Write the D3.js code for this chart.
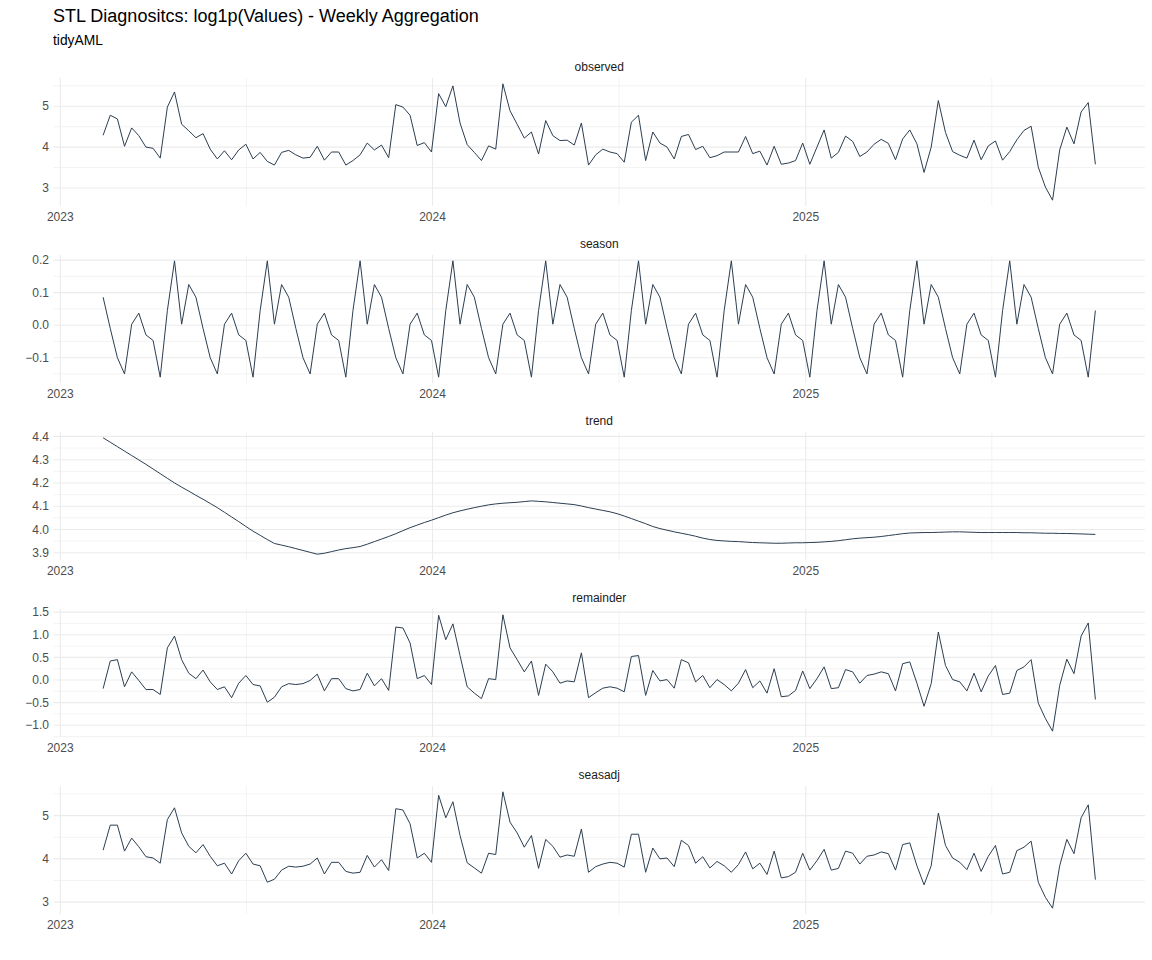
<!DOCTYPE html>
<html><head><meta charset="utf-8">
<script src="https://cdn.jsdelivr.net/npm/d3@7"></script>
<style>body{margin:0;background:#fff} text{font-family:"Liberation Sans",Arial,sans-serif}</style>
</head><body><svg id="c" width="1152" height="960"></svg>
<script>
// ---------------- DATA ----------------
const startDate = "2023-02-12";   // first weekly observation (Sunday)
const nWeeks = 140;
const facetNames = ["observed", "season", "trend", "remainder", "seasadj"];
const xYearLabels = ["2023", "2024", "2025"];

const observed = [
 4.29,4.78,4.69,4.02,4.47,4.28,4.00,3.97,3.73,4.98,5.35,4.56,4.40,4.23,4.33,3.95,3.71,3.91,3.69,3.93,
 4.07,3.71,3.87,3.65,3.56,3.87,3.92,3.81,3.73,3.75,4.02,3.68,3.88,3.88,3.56,3.67,3.81,4.10,3.93,4.05,
 3.74,5.04,4.98,4.78,4.04,4.11,3.88,5.31,4.99,5.50,4.59,4.06,3.87,3.67,4.03,3.95,5.55,4.89,4.56,4.22,
 4.37,3.83,4.65,4.28,4.16,4.17,4.05,4.59,3.56,3.81,3.95,3.88,3.84,3.63,4.61,4.78,3.67,4.37,4.10,4.00,
 3.71,4.26,4.31,3.94,4.02,3.74,3.79,3.88,3.88,3.88,4.26,3.84,3.90,3.56,4.02,3.58,3.61,3.67,4.10,3.58,
 4.00,4.42,3.73,3.87,4.27,4.14,3.77,3.88,4.07,4.19,4.09,3.69,4.20,4.42,4.08,3.38,4.00,5.14,4.36,3.89,
 3.80,3.73,4.17,3.69,4.03,4.15,3.68,3.89,4.18,4.41,4.51,3.51,3.02,2.70,3.93,4.49,4.08,4.86,5.09,3.58
];
const season = [
 0.086,-0.010,-0.100,-0.150,0.003,0.037,-0.030,-0.047,-0.160,0.045,0.198,0.003,0.125,
 0.086,-0.010,-0.100,-0.150,0.003,0.037,-0.030,-0.047,-0.160,0.045,0.198,0.003,0.125,
 0.086,-0.010,-0.100,-0.150,0.003,0.037,-0.030,-0.047,-0.160,0.045,0.198,0.003,0.125,
 0.086,-0.010,-0.100,-0.150,0.003,0.037,-0.030,-0.047,-0.160,0.045,0.198,0.003,0.125,
 0.086,-0.010,-0.100,-0.150,0.003,0.037,-0.030,-0.047,-0.160,0.045,0.198,0.003,0.125,
 0.086,-0.010,-0.100,-0.150,0.003,0.037,-0.030,-0.047,-0.160,0.045,0.198,0.003,0.125,
 0.086,-0.010,-0.100,-0.150,0.003,0.037,-0.030,-0.047,-0.160,0.045,0.198,0.003,0.125,
 0.086,-0.010,-0.100,-0.150,0.003,0.037,-0.030,-0.047,-0.160,0.045,0.198,0.003,0.125,
 0.086,-0.010,-0.100,-0.150,0.003,0.037,-0.030,-0.047,-0.160,0.045,0.198,0.003,0.125,
 0.086,-0.010,-0.100,-0.150,0.003,0.037,-0.030,-0.047,-0.160,0.045,0.198,0.003,0.125,
 0.086,-0.010,-0.100,-0.150,0.003,0.037,-0.030,-0.047,-0.160,0.045
];
const trend = [
 4.394,4.375,4.356,4.337,4.318,4.299,4.280,4.260,4.240,4.220,4.200,4.182,4.165,4.147,4.130,4.112,4.094,4.074,4.054,4.034,
 4.013,3.993,3.975,3.957,3.940,3.933,3.926,3.918,3.910,3.902,3.894,3.898,3.905,3.912,3.918,3.922,3.927,3.937,3.948,3.959,
 3.970,3.982,3.995,4.008,4.019,4.030,4.040,4.051,4.062,4.072,4.080,4.087,4.094,4.100,4.106,4.110,4.113,4.115,4.117,4.120,
 4.123,4.121,4.119,4.116,4.113,4.110,4.107,4.101,4.094,4.088,4.082,4.076,4.068,4.058,4.047,4.036,4.025,4.013,4.004,3.997,
 3.990,3.984,3.978,3.971,3.963,3.957,3.953,3.951,3.949,3.948,3.946,3.944,3.943,3.942,3.941,3.941,3.942,3.943,3.943,3.944,
 3.945,3.947,3.949,3.952,3.956,3.960,3.963,3.965,3.967,3.970,3.974,3.978,3.982,3.985,3.986,3.987,3.987,3.988,3.989,3.990,
 3.990,3.989,3.988,3.987,3.987,3.987,3.987,3.987,3.987,3.986,3.986,3.985,3.984,3.984,3.983,3.983,3.982,3.981,3.980,3.979
];
const remainder = [
 -0.19,0.42,0.45,-0.15,0.18,-0.01,-0.21,-0.21,-0.32,0.71,0.97,0.45,0.15,0.03,0.22,-0.04,-0.21,-0.15,-0.39,-0.07,
 0.10,-0.10,-0.13,-0.49,-0.38,-0.15,-0.08,-0.10,-0.08,-0.01,0.13,-0.24,0.03,0.03,-0.19,-0.24,-0.21,0.15,-0.13,0.03,
 -0.23,1.17,1.15,0.82,0.03,0.10,-0.10,1.43,0.89,1.24,0.54,-0.15,-0.29,-0.41,0.03,0.01,1.44,0.71,0.45,0.18,
 0.42,-0.34,0.35,0.18,-0.07,-0.02,-0.04,0.60,-0.39,-0.28,-0.18,-0.15,-0.18,-0.26,0.52,0.54,-0.34,0.21,-0.02,0.01,
 -0.18,0.45,0.38,-0.04,0.10,-0.17,0.01,-0.10,-0.24,-0.07,0.23,-0.17,-0.02,-0.29,0.25,-0.37,-0.35,-0.23,0.20,-0.19,
 0.03,0.29,-0.19,-0.17,0.23,0.18,-0.07,0.10,0.13,0.18,0.14,-0.24,0.36,0.40,-0.07,-0.58,-0.08,1.06,0.32,0.01,
 -0.04,-0.24,0.15,-0.26,0.09,0.32,-0.32,-0.29,0.21,0.29,0.45,-0.51,-0.85,-1.13,-0.12,0.46,0.14,0.97,1.26,-0.43
];
const seasadj = [
 4.20,4.78,4.78,4.18,4.48,4.28,4.05,4.02,3.90,4.91,5.18,4.60,4.29,4.14,4.33,4.06,3.84,3.90,3.65,3.96,
 4.13,3.88,3.84,3.46,3.53,3.74,3.83,3.81,3.83,3.88,4.02,3.65,3.92,3.92,3.71,3.67,3.69,4.08,3.81,3.98,
 3.73,5.16,5.13,4.81,4.02,4.13,3.92,5.47,4.95,5.32,4.54,3.91,3.79,3.67,4.13,4.10,5.55,4.85,4.60,4.27,
 4.54,3.78,4.45,4.29,4.04,4.09,4.06,4.69,3.69,3.82,3.88,3.92,3.90,3.81,4.57,4.57,3.69,4.25,4.00,4.02,
 3.82,4.43,4.31,3.90,4.05,3.79,3.94,3.84,3.69,3.87,4.16,3.77,3.90,3.64,4.18,3.56,3.59,3.69,4.13,3.74,
 3.96,4.22,3.74,3.78,4.18,4.13,3.88,4.06,4.09,4.16,4.12,3.74,4.33,4.37,3.84,3.40,3.84,5.06,4.31,4.02,
 3.92,3.75,4.13,3.71,4.06,4.31,3.65,3.69,4.19,4.27,4.41,3.46,3.11,2.86,3.84,4.45,4.12,4.95,5.25,3.52
];
const observedTicks = [3, 4, 5];
const seasonTicks = [-0.1, 0.0, 0.1, 0.2];
const trendTicks = [3.9, 4.0, 4.1, 4.2, 4.3, 4.4];
const remainderTicks = [-1.0, -0.5, 0.0, 0.5, 1.0, 1.5];
const seasadjTicks = [3, 4, 5];

// ---------------- DRAW ----------------
const seriesList = [observed, season, trend, remainder, seasadj];
const tickList = [observedTicks, seasonTicks, trendTicks, remainderTicks, seasadjTicks];
const fmtList = [d3.format("d"), d3.format(".1f"), d3.format(".1f"), d3.format(".1f"), d3.format("d")];

const svg = d3.select("#c");
const left = 53.5, right = 1145, panelH = 128, panelTop0 = 78, panelStep = 177;
const gridCol = "#ebebeb", lineCol = "#2c3e50", axisTextCol = "#4d4d4d";

const start = d3.utcParse("%Y-%m-%d")(startDate);
const dates = d3.range(nWeeks).map(i => d3.utcDay.offset(start, 7 * i));
const dExt = d3.extent(dates);
const dPad = (dExt[1] - dExt[0]) * 0.05;
const x = d3.scaleUtc().domain([new Date(+dExt[0] - dPad), new Date(+dExt[1] + dPad)]).range([left, right]);
const yearDates = xYearLabels.map(y => d3.utcParse("%Y")(y));
const allYears = d3.utcYear.range(d3.utcYear.floor(x.domain()[0]), d3.utcYear.offset(x.domain()[1], 1));
const minorX = [];
for (let k = 0; k < allYears.length - 1; k++) minorX.push(new Date((+allYears[k] + +allYears[k + 1]) / 2));

svg.append("text").attr("x", 53).attr("y", 22).attr("font-size", 18).attr("fill", "#000")
  .text("STL Diagnositcs: log1p(Values) - Weekly Aggregation");
svg.append("text").attr("x", 53).attr("y", 45).attr("font-size", 13.8).attr("fill", "#000").text("tidyAML");

facetNames.forEach((name, p) => {
  const vals = seriesList[p];
  const top = panelTop0 + p * panelStep, bottom = top + panelH;
  const ext = d3.extent(vals);
  const pad = (ext[1] - ext[0]) * 0.05;
  const y = d3.scaleLinear().domain([ext[0] - pad, ext[1] + pad]).range([bottom, top]);
  const ticks = tickList[p];
  const step = ticks[1] - ticks[0];
  const minorY = [ticks[0] - step / 2].concat(ticks.map(t => t + step / 2))
    .filter(v => v >= y.domain()[0] && v <= y.domain()[1]);
  const g = svg.append("g");
  // minor grid
  g.selectAll(".mh").data(minorY).join("line").attr("x1", left).attr("x2", right)
    .attr("y1", d => y(d)).attr("y2", d => y(d)).attr("stroke", gridCol).attr("stroke-width", 0.6);
  g.selectAll(".mv").data(minorX.filter(d => x(d) >= left && x(d) <= right)).join("line")
    .attr("x1", d => x(d)).attr("x2", d => x(d)).attr("y1", top).attr("y2", bottom)
    .attr("stroke", gridCol).attr("stroke-width", 0.6);
  // major grid
  g.selectAll(".h").data(ticks).join("line").attr("x1", left).attr("x2", right)
    .attr("y1", d => y(d)).attr("y2", d => y(d)).attr("stroke", gridCol).attr("stroke-width", 1.1);
  g.selectAll(".v").data(yearDates).join("line")
    .attr("x1", d => x(d)).attr("x2", d => x(d)).attr("y1", top).attr("y2", bottom)
    .attr("stroke", gridCol).attr("stroke-width", 1.1);
  // line
  g.append("path").datum(vals).attr("fill", "none").attr("stroke", lineCol).attr("stroke-width", 1)
    .attr("stroke-linejoin", "round")
    .attr("d", d3.line().x((d, i) => x(dates[i])).y(d => y(d)));
  // strip
  g.append("text").attr("x", (left + right) / 2).attr("y", top - 7).attr("text-anchor", "middle")
    .attr("font-size", 12).attr("fill", "#1a1a1a").text(name);
  // y labels
  g.selectAll(".yl").data(ticks).join("text").attr("x", 49).attr("y", d => y(d)).attr("dy", "0.35em")
    .attr("text-anchor", "end").attr("font-size", 12).attr("fill", axisTextCol).text(d => fmtList[p](d));
  // x labels
  g.selectAll(".xl").data(yearDates).join("text").attr("x", d => x(d)).attr("y", bottom + 15)
    .attr("text-anchor", "middle").attr("font-size", 12).attr("fill", axisTextCol)
    .text((d, i) => xYearLabels[i]);
});
</script></body></html>
